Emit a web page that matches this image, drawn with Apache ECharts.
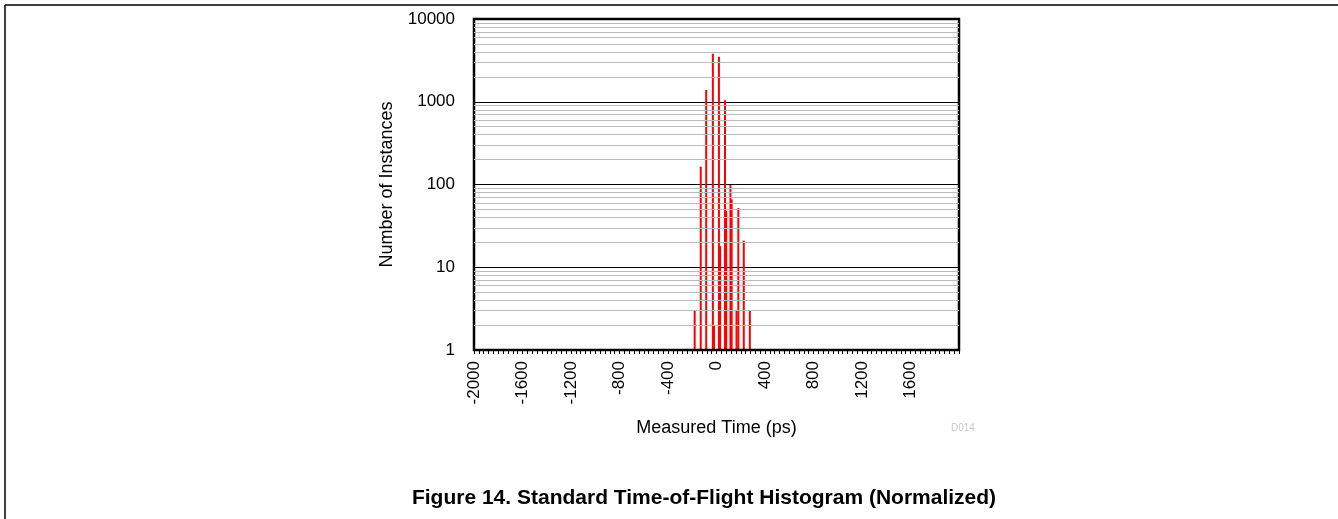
<!DOCTYPE html>
<html>
<head>
<meta charset="utf-8">
<script src="https://cdn.jsdelivr.net/npm/echarts@6/dist/echarts.min.js"></script>
<style>
html,body{margin:0;padding:0;background:#fff;}
#chart{width:1338px;height:519px;}
</style>
</head>
<body>
<div id="chart"></div>
<script>
// Data
const times = [-180, -130, -85, -30, -20, 20, 30, 70, 80, 115, 125, 165, 180, 225, 275];
const counts = [3, 164, 1390, 3800, 2, 3500, 18, 1045, 48, 99, 66, 3, 52, 21, 3];
const xTickLabels = [-2000, -1600, -1200, -800, -400, 0, 400, 800, 1200, 1600];
const yTickLabels = [1, 10, 100, 1000, 10000];
const titleText = 'Figure 14. Standard Time-of-Flight Histogram (Normalized)';
const xName = 'Measured Time (ps)';
const yName = 'Number of Instances';

const FONT = "'Liberation Sans', Arial, sans-serif";

// minor log gridlines (2..9 in each decade)
const minorLines = [];
for (let d = 1; d < 10000; d *= 10) {
  for (let k = 2; k <= 9; k++) minorLines.push({ yAxis: d * k });
}

const chart = echarts.init(document.getElementById('chart'), null, { renderer: 'canvas' });
chart.setOption({
  animation: false,
  backgroundColor: '#fff',
  grid: {
    left: 474, right: 379, top: 19, bottom: 169,
    show: true, borderColor: '#000', borderWidth: 2.5, backgroundColor: 'transparent', z: 5
  },
  xAxis: {
    type: 'value', min: -2000, max: 2000, interval: 400,
    name: xName, nameLocation: 'middle', nameGap: 69,
    nameTextStyle: { fontFamily: FONT, fontSize: 18, color: '#000' },
    axisLine: { show: false },
    axisTick: { show: true, length: 4, inside: false, lineStyle: { color: '#000', width: 1 } },
    minorTick: { show: true, splitNumber: 10, length: 4, lineStyle: { color: '#000', width: 1 } },
    splitLine: { show: false },
    axisLabel: {
      rotate: 90, margin: 11, fontFamily: FONT, fontSize: 17, color: '#000',
      formatter: v => (xTickLabels.indexOf(v) >= 0 ? String(v) : '')
    }
  },
  yAxis: {
    type: 'log', logBase: 10, min: 1, max: 10000,
    name: yName, nameLocation: 'middle', nameGap: 78, nameRotate: 90,
    nameTextStyle: { fontFamily: FONT, fontSize: 18, color: '#000' },
    axisLine: { show: false },
    axisTick: { show: false },
    splitLine: { show: true, lineStyle: { color: '#000', width: 1 } },
    axisLabel: {
      margin: 19, fontFamily: FONT, fontSize: 17, color: '#000',
      formatter: v => (yTickLabels.indexOf(Math.round(v)) >= 0 ? String(Math.round(v)) : '')
    }
  },
  series: [
    {
      type: 'scatter', data: [], z: 1, silent: true,
      markLine: {
        silent: true, symbol: ['none', 'none'], label: { show: false },
        lineStyle: { color: '#bcbcbc', width: 1, type: 'solid' },
        data: minorLines
      }
    },
    {
      type: 'bar', z: 3, barWidth: 2,
      itemStyle: { color: '#ff0000' },
      data: times.map((t, i) => [t, counts[i]])
    }
  ],
  graphic: [
    { type: 'line', shape: { x1: 5, y1: 5, x2: 1338, y2: 5 }, style: { stroke: '#000', lineWidth: 1.5 } },
    { type: 'line', shape: { x1: 5, y1: 5, x2: 5, y2: 519 }, style: { stroke: '#000', lineWidth: 1.5 } },
    { type: 'text', left: 951, top: 423, style: { text: 'D014', fontFamily: FONT, fontSize: 10, fill: '#c8c8c8' } },
    { type: 'text', x: 704, y: 488, style: { text: titleText, fontFamily: FONT, fontSize: 21, fontWeight: 'bold', fill: '#000', textAlign: 'center' } }
  ]
});
</script>
</body>
</html>
